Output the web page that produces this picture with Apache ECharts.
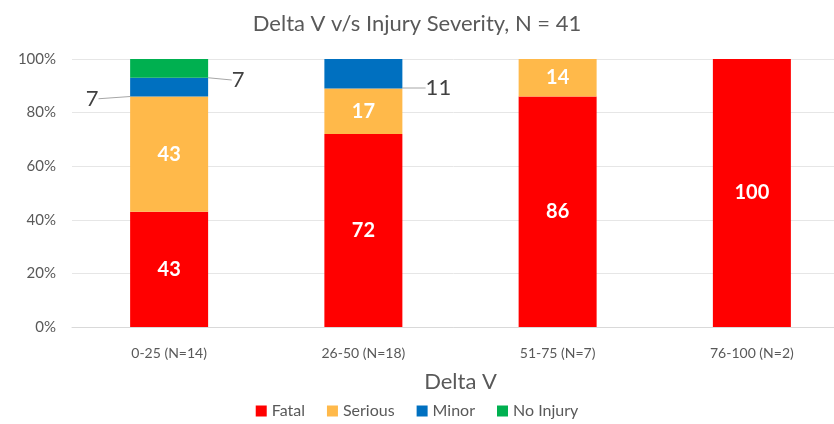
<!DOCTYPE html>
<html lang="en">
  <head>
    <meta charset="UTF-8" />
    <title>Delta V v/s Injury Severity</title>
    <script src="https://cdn.jsdelivr.net/npm/echarts@6/dist/echarts.min.js"></script>
  </head>
  <body style="margin: 0">
    <div id="main" style="width: 834px; height: 424px"></div>

    <script>
      const myEchart = echarts.init(document.getElementById("main"));

      var categories = ["0-25 (N=14)", "26-50 (N=18)", "51-75 (N=7)", "76-100 (N=2)"];
      var fatal = [43, 72, 86, 100];
      var serious = [43, 17, 14, 0];
      var minor = [7, 11, 0, 0];
      var noInjury = [7, 0, 0, 0];

      var font = "Lato";
      var insideLabel = {
        show: true,
        position: "inside",
        color: "#fff",
        fontWeight: "bold",
        fontSize: 20,
        fontFamily: font,
        formatter: (p) => (p.value ? p.value : ""),
      };
      var outsideLabel = {
        show: true,
        color: "#404040",
        fontSize: 22,
        fontFamily: font,
      };
      var leader = { show: true, lineStyle: { color: "#a6a6a6", width: 1 } };

      // zero-height segments get no label and no leader line
      function items(arr) {
        return arr.map((v) => ({ value: v, label: { show: v > 0 }, labelLine: { show: v > 0 } }));
      }

      let options = {
        title: {
          text: "Delta V v/s Injury Severity, N = 41",
          left: "center",
          top: 8,
          textStyle: { color: "#595959", fontSize: 22, fontWeight: "normal", fontFamily: font },
        },
        // the original plot area runs past the right edge of the picture
        grid: { left: 72, right: -15, top: 59, bottom: 97, outerBoundsMode: "none" },
        legend: {
          bottom: 0,
          itemWidth: 11,
          itemHeight: 11,
          itemGap: 22,
          icon: "rect",
          textStyle: { color: "#595959", fontSize: 16, fontFamily: font },
          data: ["Fatal", "Serious", "Minor", "No Injury"],
        },
        xAxis: {
          type: "category",
          data: categories,
          name: "Delta V",
          nameLocation: "middle",
          nameGap: 44,
          nameTextStyle: { color: "#595959", fontSize: 22, fontFamily: font },
          axisTick: { show: false },
          axisLine: { lineStyle: { color: "#d9d9d9" } },
          axisLabel: { color: "#595959", fontSize: 14, fontFamily: font, margin: 19 },
        },
        yAxis: {
          type: "value",
          min: 0,
          max: 100,
          interval: 20,
          axisLabel: { formatter: "{value}%", color: "#595959", fontSize: 15, fontFamily: font, margin: 16 },
          splitLine: { lineStyle: { color: "#e6e6e6" } },
        },
        series: [
          {
            name: "Fatal",
            type: "bar",
            stack: "all",
            barWidth: 78,
            itemStyle: { color: "#ff0000" },
            label: insideLabel,
            data: fatal,
          },
          {
            name: "Serious",
            type: "bar",
            stack: "all",
            itemStyle: { color: "#ffb94a" },
            label: insideLabel,
            data: serious,
          },
          {
            name: "Minor",
            type: "bar",
            stack: "all",
            itemStyle: { color: "#0070c0" },
            label: outsideLabel,
            labelLine: leader,
            labelLayout: function (p) {
              if (p.dataIndex === 0) {
                return { x: p.rect.x - 38, y: p.rect.y + 21, align: "center", verticalAlign: "middle" };
              }
              return { x: p.rect.x + p.rect.width + 36, y: p.rect.y + 29, align: "center", verticalAlign: "middle" };
            },
            data: items(minor),
          },
          {
            name: "No Injury",
            type: "bar",
            stack: "all",
            itemStyle: { color: "#00b050" },
            label: outsideLabel,
            labelLine: leader,
            labelLayout: function (p) {
              return { x: p.rect.x + p.rect.width + 30, y: p.rect.y + 21, align: "center", verticalAlign: "middle" };
            },
            data: items(noInjury),
          },
        ],
      };

      myEchart.setOption(options);
    </script>
  </body>
</html>
